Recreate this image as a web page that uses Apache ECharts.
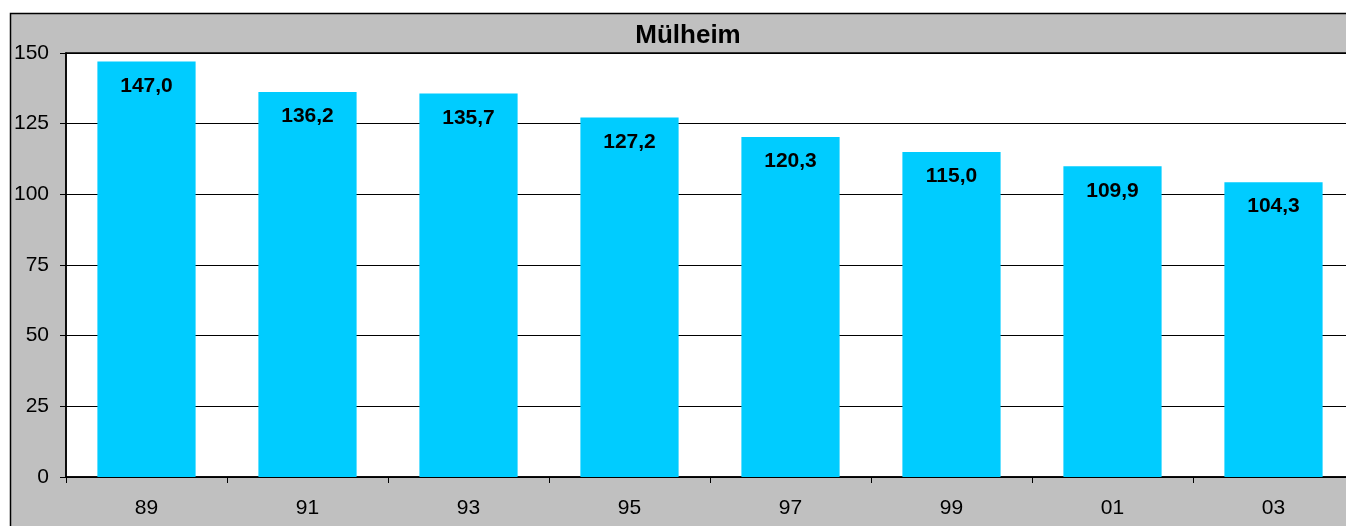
<!DOCTYPE html>
<html>
<head>
<meta charset="utf-8">
<script src="https://cdn.jsdelivr.net/npm/echarts@6/dist/echarts.min.js"></script>
<style>
  html, body { margin: 0; padding: 0; background: #ffffff; overflow: hidden; }
  #chart { width: 1400px; height: 560px; }
</style>
</head>
<body>
<div id="chart"></div>
<script>
// Years (two-digit) and values per year
const categories = ['89', '91', '93', '95', '97', '99', '01', '03'];
const values = [147.0, 136.2, 135.7, 127.2, 120.3, 115.0, 109.9, 104.3];
const yTicks = [0, 25, 50, 75, 100, 125, 150];
const titleText = 'Mülheim';

const FONT = '"Liberation Sans", Arial, sans-serif';
const fmt = v => v.toFixed(1).replace('.', ',');

const chart = echarts.init(document.getElementById('chart'), null, { renderer: 'canvas' });

chart.setOption({
  backgroundColor: '#ffffff',
  animation: false,
  graphic: [
    {
      type: 'rect',
      z: -10,
      silent: true,
      shape: { x: 10.5, y: 13.5, width: 1420, height: 600 },
      style: { fill: '#c0c0c0', stroke: '#000000', lineWidth: 1.5 }
    },
    {
      type: 'text',
      z: 10,
      x: 688,
      y: 36,
      style: {
        text: titleText,
        fill: '#000000',
        font: 'bold 26px ' + FONT,
        textAlign: 'center',
        textVerticalAlign: 'middle'
      }
    }
  ],
  grid: {
    left: 66,
    top: 53,
    width: 1288,
    height: 424,
    show: true,
    backgroundColor: '#ffffff',
    borderColor: '#000000',
    borderWidth: 1.5
  },
  xAxis: {
    type: 'category',
    data: categories,
    axisLine: { show: true, lineStyle: { color: '#000000', width: 1.5 } },
    axisTick: { show: true, alignWithLabel: false, length: 6, lineStyle: { color: '#000000' } },
    axisLabel: { color: '#000000', fontFamily: FONT, fontSize: 21, margin: 21 },
    splitLine: { show: false }
  },
  yAxis: {
    type: 'value',
    min: yTicks[0],
    max: yTicks[yTicks.length - 1],
    interval: 25,
    axisLine: { show: true, lineStyle: { color: '#000000', width: 1.5 } },
    axisTick: { show: true, length: 6, lineStyle: { color: '#000000' } },
    axisLabel: { color: '#000000', fontFamily: FONT, fontSize: 21, margin: 17 },
    splitLine: { show: true, lineStyle: { color: '#000000', width: 1 } }
  },
  series: [
    {
      type: 'bar',
      data: values,
      barWidth: '61%',
      itemStyle: { color: '#00ccff' },
      label: {
        show: true,
        position: 'insideTop',
        distance: 14,
        color: '#000000',
        fontFamily: FONT,
        fontWeight: 'bold',
        fontSize: 21,
        formatter: p => fmt(p.value)
      }
    }
  ]
});
</script>
</body>
</html>
